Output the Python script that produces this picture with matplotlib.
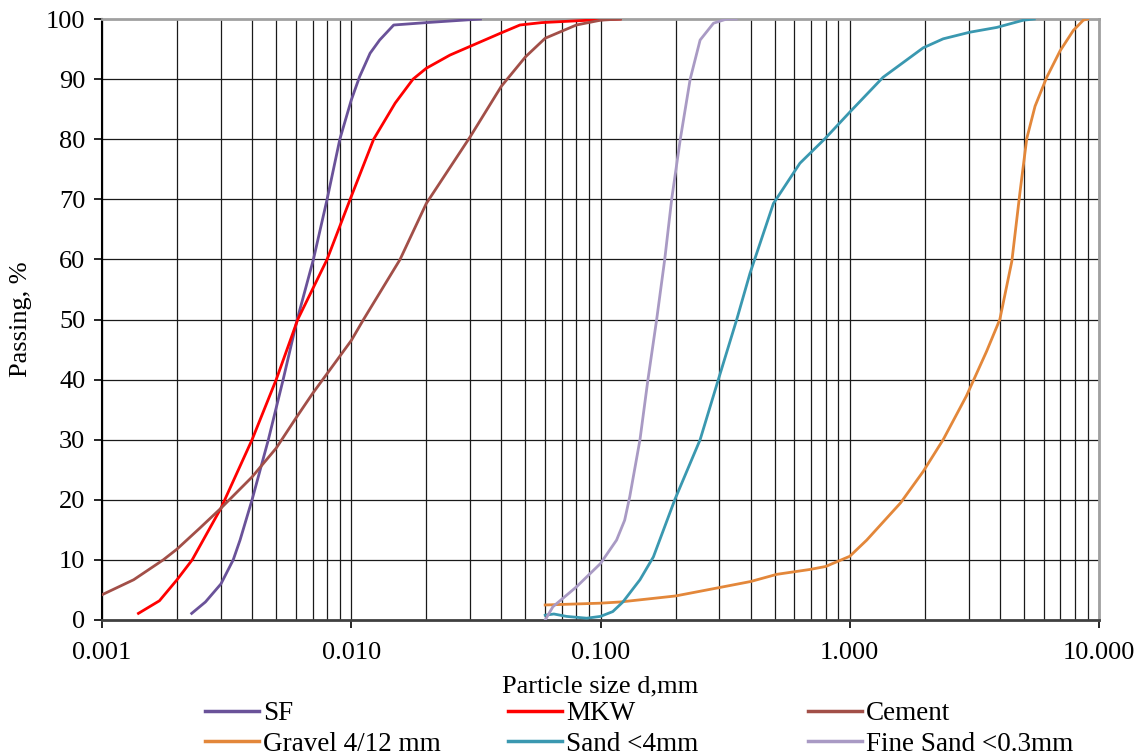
import matplotlib
matplotlib.use('Agg')
import matplotlib.pyplot as plt
from matplotlib.ticker import FixedLocator, FuncFormatter
from matplotlib.lines import Line2D

plt.rcParams['font.family'] = ['Liberation Serif', 'DejaVu Serif']

# Grading curves (particle size in mm, passing in %)
sf_x = [0.00229, 0.0026, 0.003, 0.00336, 0.00358, 0.004, 0.00465, 0.00533, 0.00607, 0.00705,
        0.008, 0.009, 0.010, 0.0108, 0.0119, 0.013, 0.0148, 0.02, 0.033]
sf_y = [1.1, 3.0, 6.0, 10.0, 13.3, 20.0, 30.0, 40.0, 50.0, 60.0,
        70.0, 80.0, 86.5, 90.4, 94.3, 96.5, 99.0, 99.4, 100.0]

mkw_x = [0.0014, 0.0017, 0.002, 0.0023, 0.003, 0.004, 0.005, 0.0061, 0.008, 0.0099, 0.0123,
         0.015, 0.0177, 0.02, 0.0249, 0.0395, 0.0475, 0.058, 0.09, 0.12]
mkw_y = [1.1, 3.2, 6.7, 10.0, 18.6, 30.0, 40.0, 50.0, 60.0, 70.0, 80.0,
         86.0, 90.0, 91.8, 94.0, 97.6, 99.0, 99.4, 99.8, 100.0]

cement_x = [0.001, 0.00134, 0.00176, 0.002, 0.00247, 0.003, 0.004, 0.005, 0.006, 0.007,
            0.0082, 0.01, 0.0112, 0.0157, 0.02, 0.03, 0.04, 0.05, 0.06, 0.08, 0.1, 0.12]
cement_y = [4.2, 6.7, 10.0, 11.8, 15.3, 18.6, 23.8, 28.6, 33.6, 37.7,
            41.6, 46.5, 50.0, 60.0, 69.3, 80.4, 88.8, 93.7, 96.8, 99.0, 99.8, 100.0]

gravel_x = [0.06, 0.1, 0.12, 0.2, 0.3, 0.4, 0.51, 0.69, 0.8, 1.0, 1.17, 1.6, 1.97, 2.37,
            2.94, 3.54, 4.0, 4.47, 4.82, 5.13, 5.54, 6.17, 6.98, 7.89, 8.65, 9.0]
gravel_y = [2.5, 2.8, 3.0, 4.0, 5.4, 6.4, 7.6, 8.4, 8.9, 10.6, 13.3, 19.5, 24.7, 30.0,
            37.3, 44.7, 50.0, 59.7, 71.2, 80.1, 85.5, 90.3, 94.7, 98.1, 99.8, 100.0]

sand_x = [0.06, 0.065, 0.073, 0.088, 0.1, 0.112, 0.123, 0.144, 0.163, 0.199, 0.251, 0.297,
          0.352, 0.398, 0.494, 0.631, 0.796, 1.0, 1.36, 1.97, 2.37, 3.03, 3.89, 4.97, 5.5]
sand_y = [0.8, 1.0, 0.6, 0.3, 0.6, 1.4, 3.0, 6.7, 10.5, 20.1, 30.0, 40.0,
          50.0, 57.7, 69.3, 76.0, 80.1, 84.5, 90.3, 95.2, 96.7, 97.8, 98.6, 99.8, 100.0]

fine_x = [0.06, 0.0644, 0.08, 0.1, 0.116, 0.125, 0.131, 0.144, 0.155, 0.168, 0.181,
          0.193, 0.209, 0.229, 0.251, 0.284, 0.321, 0.35]
fine_y = [0.0, 2.2, 5.5, 9.4, 13.3, 16.6, 20.5, 30.0, 40.0, 50.0, 60.0,
          70.0, 80.0, 90.0, 96.5, 99.3, 100.0, 100.0]

labels = ['SF', 'MKW', 'Cement', 'Gravel 4/12 mm', 'Sand <4mm', 'Fine Sand <0.3mm']
colors = ['#6a5299', '#ff0000', '#a24f48', '#e3873a', '#3a98b0', '#a99ac4']
series = [(sf_x, sf_y), (mkw_x, mkw_y), (cement_x, cement_y),
          (gravel_x, gravel_y), (sand_x, sand_y), (fine_x, fine_y)]

fig = plt.figure(figsize=(11.45, 7.55), dpi=100)
ax = fig.add_axes([102 / 1145, 1 - 620 / 755, 997 / 1145, 601 / 755])

ax.set_xscale('log')
ax.set_xlim(0.001, 10)
ax.set_ylim(0, 100)

# grid: every 1..9 per decade vertically, every 10 % horizontally
grid_x = [m * 10.0 ** e for e in range(-3, 1) for m in range(1, 10)] + [10.0]
for gx in grid_x:
    ax.axvline(gx, color='#1a1a1a', lw=0.9, zorder=1)
for gy in range(10, 100, 10):
    ax.axhline(gy, color='#1a1a1a', lw=0.9, zorder=1)

for (xs, ys), c in zip(series, colors):
    ax.plot(xs, ys, color=c, lw=2.0, zorder=3, solid_joinstyle='round')

ax.xaxis.set_major_locator(FixedLocator([0.001, 0.01, 0.1, 1, 10]))
ax.xaxis.set_minor_locator(FixedLocator([]))
ax.xaxis.set_major_formatter(FuncFormatter(lambda v, p: '%.3f' % v))
ax.set_yticks(range(0, 101, 10))
ax.tick_params(axis='both', labelsize=19, length=6, width=1.2, direction='out')
ax.tick_params(axis='x', pad=10)
ax.tick_params(axis='y', pad=6)

ax.spines['left'].set_color('#000000')
ax.spines['left'].set_linewidth(1.5)
ax.spines['bottom'].set_color('#404040')
ax.spines['bottom'].set_linewidth(2)
ax.spines['top'].set_color('#a0a0a0')
ax.spines['top'].set_linewidth(2)
ax.spines['right'].set_color('#a0a0a0')
ax.spines['right'].set_linewidth(2)

ax.set_xlabel('Particle size d,mm', fontsize=19, labelpad=8)
ax.set_ylabel('Passing, %', fontsize=19, labelpad=10)

# legend: three columns placed like the reference
col_x = [205 / 1145, 508 / 1145, 808 / 1145]
for i in range(3):
    handles = [Line2D([], [], color=colors[i], lw=2.5), Line2D([], [], color=colors[i + 3], lw=2.5)]
    fig.legend(handles, [labels[i], labels[i + 3]], loc='upper left',
               bbox_to_anchor=(col_x[i], 1 - 701 / 755), frameon=False,
               fontsize=19.5, handlelength=2.0, handletextpad=0.15, labelspacing=0.22,
               borderpad=0, borderaxespad=0)

fig.savefig('out.png', dpi=100)
